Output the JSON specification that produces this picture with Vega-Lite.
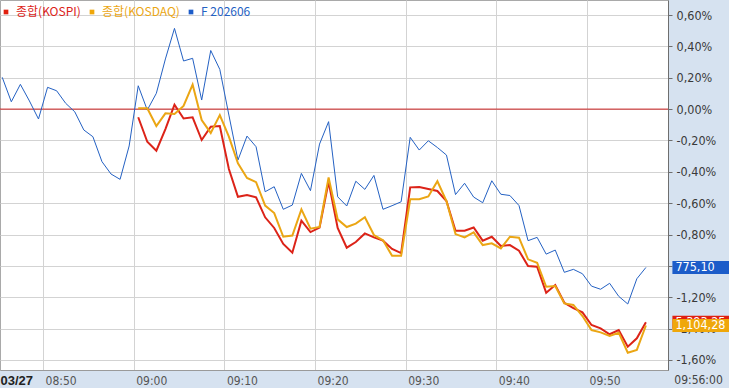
{
  "$schema": "https://vega.github.io/schema/vega-lite/v6.json",
  "width": 668,
  "height": 370,
  "autosize": {"type": "none"},
  "padding": {"left": 0, "top": 0, "right": 61, "bottom": 18},
  "background": "#d6e2f0",
  "config": {
    "view": {"fill": "white", "stroke": "#a9a9a9"},
    "font": "Liberation Sans Narrow, DejaVu Sans Condensed, sans-serif"
  },
  "datasets": {
    "main": [
      {"s": "F 202606", "t": "2026-03-27T08:45Z", "v": 0.203}, {"s": "F 202606", "t": "2026-03-27T08:46Z", "v": 0.047}, {"s": "F 202606", "t": "2026-03-27T08:47Z", "v": 0.158},
      {"s": "F 202606", "t": "2026-03-27T08:48Z", "v": 0.052}, {"s": "F 202606", "t": "2026-03-27T08:49Z", "v": -0.063}, {"s": "F 202606", "t": "2026-03-27T08:50Z", "v": 0.139},
      {"s": "F 202606", "t": "2026-03-27T08:51Z", "v": 0.117}, {"s": "F 202606", "t": "2026-03-27T08:52Z", "v": 0.037}, {"s": "F 202606", "t": "2026-03-27T08:53Z", "v": -0.017},
      {"s": "F 202606", "t": "2026-03-27T08:54Z", "v": -0.133}, {"s": "F 202606", "t": "2026-03-27T08:55Z", "v": -0.176}, {"s": "F 202606", "t": "2026-03-27T08:56Z", "v": -0.335},
      {"s": "F 202606", "t": "2026-03-27T08:57Z", "v": -0.414}, {"s": "F 202606", "t": "2026-03-27T08:58Z", "v": -0.448}, {"s": "F 202606", "t": "2026-03-27T08:59Z", "v": -0.235},
      {"s": "F 202606", "t": "2026-03-27T09:00Z", "v": 0.149}, {"s": "F 202606", "t": "2026-03-27T09:01Z", "v": -0.006}, {"s": "F 202606", "t": "2026-03-27T09:02Z", "v": 0.101},
      {"s": "F 202606", "t": "2026-03-27T09:03Z", "v": 0.32}, {"s": "F 202606", "t": "2026-03-27T09:04Z", "v": 0.515}, {"s": "F 202606", "t": "2026-03-27T09:05Z", "v": 0.307},
      {"s": "F 202606", "t": "2026-03-27T09:06Z", "v": 0.324}, {"s": "F 202606", "t": "2026-03-27T09:07Z", "v": 0.058}, {"s": "F 202606", "t": "2026-03-27T09:08Z", "v": 0.374},
      {"s": "F 202606", "t": "2026-03-27T09:09Z", "v": 0.253}, {"s": "F 202606", "t": "2026-03-27T09:10Z", "v": -0.038}, {"s": "F 202606", "t": "2026-03-27T09:11Z", "v": -0.325},
      {"s": "F 202606", "t": "2026-03-27T09:12Z", "v": -0.172}, {"s": "F 202606", "t": "2026-03-27T09:13Z", "v": -0.24}, {"s": "F 202606", "t": "2026-03-27T09:14Z", "v": -0.527},
      {"s": "F 202606", "t": "2026-03-27T09:15Z", "v": -0.495}, {"s": "F 202606", "t": "2026-03-27T09:16Z", "v": -0.639}, {"s": "F 202606", "t": "2026-03-27T09:17Z", "v": -0.612},
      {"s": "F 202606", "t": "2026-03-27T09:18Z", "v": -0.41}, {"s": "F 202606", "t": "2026-03-27T09:19Z", "v": -0.52}, {"s": "F 202606", "t": "2026-03-27T09:20Z", "v": -0.223},
      {"s": "F 202606", "t": "2026-03-27T09:21Z", "v": -0.08}, {"s": "F 202606", "t": "2026-03-27T09:22Z", "v": -0.559}, {"s": "F 202606", "t": "2026-03-27T09:23Z", "v": -0.618},
      {"s": "F 202606", "t": "2026-03-27T09:24Z", "v": -0.46}, {"s": "F 202606", "t": "2026-03-27T09:25Z", "v": -0.512}, {"s": "F 202606", "t": "2026-03-27T09:26Z", "v": -0.423},
      {"s": "F 202606", "t": "2026-03-27T09:27Z", "v": -0.639}, {"s": "F 202606", "t": "2026-03-27T09:28Z", "v": -0.616}, {"s": "F 202606", "t": "2026-03-27T09:29Z", "v": -0.591},
      {"s": "F 202606", "t": "2026-03-27T09:30Z", "v": -0.18}, {"s": "F 202606", "t": "2026-03-27T09:31Z", "v": -0.261}, {"s": "F 202606", "t": "2026-03-27T09:32Z", "v": -0.202},
      {"s": "F 202606", "t": "2026-03-27T09:33Z", "v": -0.245}, {"s": "F 202606", "t": "2026-03-27T09:34Z", "v": -0.293}, {"s": "F 202606", "t": "2026-03-27T09:35Z", "v": -0.545},
      {"s": "F 202606", "t": "2026-03-27T09:36Z", "v": -0.473}, {"s": "F 202606", "t": "2026-03-27T09:37Z", "v": -0.561}, {"s": "F 202606", "t": "2026-03-27T09:38Z", "v": -0.597},
      {"s": "F 202606", "t": "2026-03-27T09:39Z", "v": -0.457}, {"s": "F 202606", "t": "2026-03-27T09:40Z", "v": -0.543}, {"s": "F 202606", "t": "2026-03-27T09:41Z", "v": -0.551},
      {"s": "F 202606", "t": "2026-03-27T09:42Z", "v": -0.615}, {"s": "F 202606", "t": "2026-03-27T09:43Z", "v": -0.839}, {"s": "F 202606", "t": "2026-03-27T09:44Z", "v": -0.818},
      {"s": "F 202606", "t": "2026-03-27T09:45Z", "v": -0.925}, {"s": "F 202606", "t": "2026-03-27T09:46Z", "v": -0.899}, {"s": "F 202606", "t": "2026-03-27T09:47Z", "v": -1.041},
      {"s": "F 202606", "t": "2026-03-27T09:48Z", "v": -1.022}, {"s": "F 202606", "t": "2026-03-27T09:49Z", "v": -1.05}, {"s": "F 202606", "t": "2026-03-27T09:50Z", "v": -1.129},
      {"s": "F 202606", "t": "2026-03-27T09:51Z", "v": -1.149}, {"s": "F 202606", "t": "2026-03-27T09:52Z", "v": -1.111}, {"s": "F 202606", "t": "2026-03-27T09:53Z", "v": -1.194},
      {"s": "F 202606", "t": "2026-03-27T09:54Z", "v": -1.243}, {"s": "F 202606", "t": "2026-03-27T09:55Z", "v": -1.082}, {"s": "F 202606", "t": "2026-03-27T09:56Z", "v": -1.01},

      {"s": "종합(KOSPI)", "t": "2026-03-27T09:00Z", "v": -0.052}, {"s": "종합(KOSPI)", "t": "2026-03-27T09:01Z", "v": -0.208}, {"s": "종합(KOSPI)", "t": "2026-03-27T09:02Z", "v": -0.265},
      {"s": "종합(KOSPI)", "t": "2026-03-27T09:03Z", "v": -0.127}, {"s": "종합(KOSPI)", "t": "2026-03-27T09:04Z", "v": 0.028}, {"s": "종합(KOSPI)", "t": "2026-03-27T09:05Z", "v": -0.06},
      {"s": "종합(KOSPI)", "t": "2026-03-27T09:06Z", "v": -0.052}, {"s": "종합(KOSPI)", "t": "2026-03-27T09:07Z", "v": -0.197}, {"s": "종합(KOSPI)", "t": "2026-03-27T09:08Z", "v": -0.112},
      {"s": "종합(KOSPI)", "t": "2026-03-27T09:09Z", "v": -0.108}, {"s": "종합(KOSPI)", "t": "2026-03-27T09:10Z", "v": -0.382}, {"s": "종합(KOSPI)", "t": "2026-03-27T09:11Z", "v": -0.559},
      {"s": "종합(KOSPI)", "t": "2026-03-27T09:12Z", "v": -0.548}, {"s": "종합(KOSPI)", "t": "2026-03-27T09:13Z", "v": -0.563}, {"s": "종합(KOSPI)", "t": "2026-03-27T09:14Z", "v": -0.69},
      {"s": "종합(KOSPI)", "t": "2026-03-27T09:15Z", "v": -0.758}, {"s": "종합(KOSPI)", "t": "2026-03-27T09:16Z", "v": -0.86}, {"s": "종합(KOSPI)", "t": "2026-03-27T09:17Z", "v": -0.916},
      {"s": "종합(KOSPI)", "t": "2026-03-27T09:18Z", "v": -0.712}, {"s": "종합(KOSPI)", "t": "2026-03-27T09:19Z", "v": -0.784}, {"s": "종합(KOSPI)", "t": "2026-03-27T09:20Z", "v": -0.756},
      {"s": "종합(KOSPI)", "t": "2026-03-27T09:21Z", "v": -0.463}, {"s": "종합(KOSPI)", "t": "2026-03-27T09:22Z", "v": -0.758}, {"s": "종합(KOSPI)", "t": "2026-03-27T09:23Z", "v": -0.884},
      {"s": "종합(KOSPI)", "t": "2026-03-27T09:24Z", "v": -0.848}, {"s": "종합(KOSPI)", "t": "2026-03-27T09:25Z", "v": -0.793}, {"s": "종합(KOSPI)", "t": "2026-03-27T09:26Z", "v": -0.818},
      {"s": "종합(KOSPI)", "t": "2026-03-27T09:27Z", "v": -0.839}, {"s": "종합(KOSPI)", "t": "2026-03-27T09:28Z", "v": -0.892}, {"s": "종합(KOSPI)", "t": "2026-03-27T09:29Z", "v": -0.918},
      {"s": "종합(KOSPI)", "t": "2026-03-27T09:30Z", "v": -0.499}, {"s": "종합(KOSPI)", "t": "2026-03-27T09:31Z", "v": -0.497}, {"s": "종합(KOSPI)", "t": "2026-03-27T09:32Z", "v": -0.51},
      {"s": "종합(KOSPI)", "t": "2026-03-27T09:33Z", "v": -0.522}, {"s": "종합(KOSPI)", "t": "2026-03-27T09:34Z", "v": -0.586}, {"s": "종합(KOSPI)", "t": "2026-03-27T09:35Z", "v": -0.776},
      {"s": "종합(KOSPI)", "t": "2026-03-27T09:36Z", "v": -0.776}, {"s": "종합(KOSPI)", "t": "2026-03-27T09:37Z", "v": -0.755}, {"s": "종합(KOSPI)", "t": "2026-03-27T09:38Z", "v": -0.839},
      {"s": "종합(KOSPI)", "t": "2026-03-27T09:39Z", "v": -0.814}, {"s": "종합(KOSPI)", "t": "2026-03-27T09:40Z", "v": -0.873}, {"s": "종합(KOSPI)", "t": "2026-03-27T09:41Z", "v": -0.867},
      {"s": "종합(KOSPI)", "t": "2026-03-27T09:42Z", "v": -0.903}, {"s": "종합(KOSPI)", "t": "2026-03-27T09:43Z", "v": -1.001}, {"s": "종합(KOSPI)", "t": "2026-03-27T09:44Z", "v": -1.005},
      {"s": "종합(KOSPI)", "t": "2026-03-27T09:45Z", "v": -1.171}, {"s": "종합(KOSPI)", "t": "2026-03-27T09:46Z", "v": -1.122}, {"s": "종합(KOSPI)", "t": "2026-03-27T09:47Z", "v": -1.235},
      {"s": "종합(KOSPI)", "t": "2026-03-27T09:48Z", "v": -1.27}, {"s": "종합(KOSPI)", "t": "2026-03-27T09:49Z", "v": -1.296}, {"s": "종합(KOSPI)", "t": "2026-03-27T09:50Z", "v": -1.377},
      {"s": "종합(KOSPI)", "t": "2026-03-27T09:51Z", "v": -1.398}, {"s": "종합(KOSPI)", "t": "2026-03-27T09:52Z", "v": -1.436}, {"s": "종합(KOSPI)", "t": "2026-03-27T09:53Z", "v": -1.409},
      {"s": "종합(KOSPI)", "t": "2026-03-27T09:54Z", "v": -1.515}, {"s": "종합(KOSPI)", "t": "2026-03-27T09:55Z", "v": -1.462}, {"s": "종합(KOSPI)", "t": "2026-03-27T09:56Z", "v": -1.36},

      {"s": "종합(KOSDAQ)", "t": "2026-03-27T09:00Z", "v": 0.005}, {"s": "종합(KOSDAQ)", "t": "2026-03-27T09:01Z", "v": 0.005}, {"s": "종합(KOSDAQ)", "t": "2026-03-27T09:02Z", "v": -0.108},
      {"s": "종합(KOSDAQ)", "t": "2026-03-27T09:03Z", "v": -0.027}, {"s": "종합(KOSDAQ)", "t": "2026-03-27T09:04Z", "v": -0.031}, {"s": "종합(KOSDAQ)", "t": "2026-03-27T09:05Z", "v": 0.02},
      {"s": "종합(KOSDAQ)", "t": "2026-03-27T09:06Z", "v": 0.157}, {"s": "종합(KOSDAQ)", "t": "2026-03-27T09:07Z", "v": -0.07}, {"s": "종합(KOSDAQ)", "t": "2026-03-27T09:08Z", "v": -0.152},
      {"s": "종합(KOSDAQ)", "t": "2026-03-27T09:09Z", "v": -0.038}, {"s": "종합(KOSDAQ)", "t": "2026-03-27T09:10Z", "v": -0.176}, {"s": "종합(KOSDAQ)", "t": "2026-03-27T09:11Z", "v": -0.346},
      {"s": "종합(KOSDAQ)", "t": "2026-03-27T09:12Z", "v": -0.439}, {"s": "종합(KOSDAQ)", "t": "2026-03-27T09:13Z", "v": -0.466}, {"s": "종합(KOSDAQ)", "t": "2026-03-27T09:14Z", "v": -0.615},
      {"s": "종합(KOSDAQ)", "t": "2026-03-27T09:15Z", "v": -0.663}, {"s": "종합(KOSDAQ)", "t": "2026-03-27T09:16Z", "v": -0.814}, {"s": "종합(KOSDAQ)", "t": "2026-03-27T09:17Z", "v": -0.806},
      {"s": "종합(KOSDAQ)", "t": "2026-03-27T09:18Z", "v": -0.639}, {"s": "종합(KOSDAQ)", "t": "2026-03-27T09:19Z", "v": -0.763}, {"s": "종합(KOSDAQ)", "t": "2026-03-27T09:20Z", "v": -0.752},
      {"s": "종합(KOSDAQ)", "t": "2026-03-27T09:21Z", "v": -0.436}, {"s": "종합(KOSDAQ)", "t": "2026-03-27T09:22Z", "v": -0.703}, {"s": "종합(KOSDAQ)", "t": "2026-03-27T09:23Z", "v": -0.752},
      {"s": "종합(KOSDAQ)", "t": "2026-03-27T09:24Z", "v": -0.73}, {"s": "종합(KOSDAQ)", "t": "2026-03-27T09:25Z", "v": -0.69}, {"s": "종합(KOSDAQ)", "t": "2026-03-27T09:26Z", "v": -0.803},
      {"s": "종합(KOSDAQ)", "t": "2026-03-27T09:27Z", "v": -0.837}, {"s": "종합(KOSDAQ)", "t": "2026-03-27T09:28Z", "v": -0.936}, {"s": "종합(KOSDAQ)", "t": "2026-03-27T09:29Z", "v": -0.936},
      {"s": "종합(KOSDAQ)", "t": "2026-03-27T09:30Z", "v": -0.575}, {"s": "종합(KOSDAQ)", "t": "2026-03-27T09:31Z", "v": -0.575}, {"s": "종합(KOSDAQ)", "t": "2026-03-27T09:32Z", "v": -0.557},
      {"s": "종합(KOSDAQ)", "t": "2026-03-27T09:33Z", "v": -0.46}, {"s": "종합(KOSDAQ)", "t": "2026-03-27T09:34Z", "v": -0.586}, {"s": "종합(KOSDAQ)", "t": "2026-03-27T09:35Z", "v": -0.797},
      {"s": "종합(KOSDAQ)", "t": "2026-03-27T09:36Z", "v": -0.818}, {"s": "종합(KOSDAQ)", "t": "2026-03-27T09:37Z", "v": -0.786}, {"s": "종합(KOSDAQ)", "t": "2026-03-27T09:38Z", "v": -0.867},
      {"s": "종합(KOSDAQ)", "t": "2026-03-27T09:39Z", "v": -0.856}, {"s": "종합(KOSDAQ)", "t": "2026-03-27T09:40Z", "v": -0.888}, {"s": "종합(KOSDAQ)", "t": "2026-03-27T09:41Z", "v": -0.814},
      {"s": "종합(KOSDAQ)", "t": "2026-03-27T09:42Z", "v": -0.82}, {"s": "종합(KOSDAQ)", "t": "2026-03-27T09:43Z", "v": -0.958}, {"s": "종합(KOSDAQ)", "t": "2026-03-27T09:44Z", "v": -0.98},
      {"s": "종합(KOSDAQ)", "t": "2026-03-27T09:45Z", "v": -1.133}, {"s": "종합(KOSDAQ)", "t": "2026-03-27T09:46Z", "v": -1.128}, {"s": "종합(KOSDAQ)", "t": "2026-03-27T09:47Z", "v": -1.239},
      {"s": "종합(KOSDAQ)", "t": "2026-03-27T09:48Z", "v": -1.249}, {"s": "종합(KOSDAQ)", "t": "2026-03-27T09:49Z", "v": -1.32}, {"s": "종합(KOSDAQ)", "t": "2026-03-27T09:50Z", "v": -1.409},
      {"s": "종합(KOSDAQ)", "t": "2026-03-27T09:51Z", "v": -1.424}, {"s": "종합(KOSDAQ)", "t": "2026-03-27T09:52Z", "v": -1.447}, {"s": "종합(KOSDAQ)", "t": "2026-03-27T09:53Z", "v": -1.426},
      {"s": "종합(KOSDAQ)", "t": "2026-03-27T09:54Z", "v": -1.554}, {"s": "종합(KOSDAQ)", "t": "2026-03-27T09:55Z", "v": -1.536}, {"s": "종합(KOSDAQ)", "t": "2026-03-27T09:56Z", "v": -1.38}
    ],
    "latest": [
      {"s": "F 202606", "t": "2026-03-27T09:56Z", "v": -1.01, "price": "775,10"},
      {"s": "종합(KOSPI)", "t": "2026-03-27T09:56Z", "v": -1.36, "price": "5,393,25"},
      {"s": "종합(KOSDAQ)", "t": "2026-03-27T09:56Z", "v": -1.38, "price": "1,104,28"}
    ],
    "reference": [{"level": 0}]
  },
  "layer": [
    {
      "data": {"name": "reference"},
      "mark": {"type": "rule", "color": "#cc1f1f", "strokeWidth": 1},
      "encoding": {"y": {"field": "level", "type": "quantitative"}}
    },
    {
      "data": {"name": "main"},
      "transform": [{"filter": "datum.s == 'F 202606'"}],
      "mark": {"type": "line", "strokeWidth": 1, "xOffset": 4.5},
      "encoding": {
        "x": {
          "field": "t", "type": "temporal",
          "scale": {"type": "utc", "domain": [
            {"year": 2026, "month": 3, "date": 27, "hours": 8, "minutes": 45, "seconds": 15, "utc": true},
            {"year": 2026, "month": 3, "date": 27, "hours": 9, "minutes": 58, "seconds": 56, "utc": true}
          ]},
          "axis": {
            "values": [
              {"year": 2026, "month": 3, "date": 27, "hours": 8, "minutes": 50, "utc": true},
              {"year": 2026, "month": 3, "date": 27, "hours": 9, "minutes": 0, "utc": true},
              {"year": 2026, "month": 3, "date": 27, "hours": 9, "minutes": 10, "utc": true},
              {"year": 2026, "month": 3, "date": 27, "hours": 9, "minutes": 20, "utc": true},
              {"year": 2026, "month": 3, "date": 27, "hours": 9, "minutes": 30, "utc": true},
              {"year": 2026, "month": 3, "date": 27, "hours": 9, "minutes": 40, "utc": true},
              {"year": 2026, "month": 3, "date": 27, "hours": 9, "minutes": 50, "utc": true}
            ],
            "labelExpr": "utcFormat(datum.value, '%H:%M')",
            "labelAlign": "left", "labelBaseline": "middle", "labelOffset": 2,
            "ticks": true, "tickSize": 5, "tickOpacity": 0, "labelPadding": 5,
            "labelFlush": false, "labelOverlap": false, "labelBound": false,
            "labelColor": "#555555", "labelFontSize": 12,
            "domain": true, "domainColor": "#9a9a9a",
            "grid": true, "gridColor": "#d3d3d3", "gridWidth": 1,
            "title": "03/27", "titleX": 0, "titleY": 10, "titleAlign": "left", "titleBaseline": "middle",
            "titleFontSize": 13, "titleFontWeight": "bold", "titleColor": "#222222", "titleFont": "Liberation Sans, Arial, sans-serif"
          }
        },
        "y": {
          "field": "v", "type": "quantitative",
          "scale": {"domain": [-1.664, 0.696], "nice": false, "zero": false},
          "axis": {
            "orient": "right",
            "tickCount": 50,
            "values": [-1.6, -1.4, -1.2, -1, -0.8, -0.6, -0.4, -0.2, 0, 0.2, 0.4, 0.6],
            "labelExpr": "replace(replace(format(datum.value, '.2f'), '.', ','), '\u2212', '-') + '%'",
            "labelOverlap": false, "labelBound": false, "labelFlush": false,
            "labelColor": "#3a3a3a", "labelFontSize": 12.5, "labelPadding": 4,
            "tickSize": 4, "tickColor": "#6e6e6e",
            "domain": true, "domainColor": "#6e6e6e",
            "grid": true, "gridColor": "#d3d3d3",
            "title": "09:56:00", "titleAngle": 0, "titleX": 30, "titleY": 379, "titleAlign": "center", "titleBaseline": "middle",
            "titleFontSize": 12, "titleFontWeight": "normal", "titleColor": "#444444"
          }
        },
        "color": {
          "field": "s", "type": "nominal",
          "scale": {"domain": ["종합(KOSPI)", "종합(KOSDAQ)", "F 202606"], "range": ["#dc2318", "#eba614", "#2461c3"]},
          "legend": {
            "orient": "none", "legendX": 0, "legendY": 6, "direction": "horizontal", "title": null,
            "padding": 0, "symbolType": "square", "symbolSize": 22,
            "symbolFillColor": "#9e9e9e", "symbolStrokeWidth": 0,
            "labelOffset": 4, "columnPadding": 5, "labelFontSize": 12, "labelFont": "Noto Sans CJK KR",
            "encode": {
              "labels": {"update": {"fill": {"signal": "scale('color', datum.value)"}}}
            }
          }
        }
      }
    },
    {
      "data": {"name": "main"},
      "transform": [{"filter": "datum.s != 'F 202606'"}],
      "mark": {"type": "line", "strokeWidth": 2, "xOffset": 4.5},
      "encoding": {
        "x": {"field": "t", "type": "temporal"},
        "y": {"field": "v", "type": "quantitative"},
        "color": {"field": "s", "type": "nominal"}
      }
    },
    {
      "data": {"name": "latest"},
      "transform": [{"filter": "datum.s != '종합(KOSDAQ)'"}],
      "mark": {"type": "rect", "xOffset": 31, "x2Offset": 88, "yOffset": -6.5, "y2Offset": 6.5},
      "encoding": {
        "x": {"field": "t", "type": "temporal"},
        "x2": {"field": "t"},
        "y": {"field": "v", "type": "quantitative"},
        "y2": {"field": "v"},
        "fill": {"field": "s", "type": "nominal", "scale": {"domain": ["종합(KOSPI)", "종합(KOSDAQ)", "F 202606"], "range": ["#e0200f", "#efa70a", "#1c5cc9"]}, "legend": null}
      }
    },
    {
      "data": {"name": "latest"},
      "transform": [{"filter": "datum.s != '종합(KOSDAQ)'"}],
      "mark": {"type": "text", "dx": 34, "align": "left", "baseline": "middle", "fontSize": 12.5, "color": "white"},
      "encoding": {
        "x": {"field": "t", "type": "temporal"},
        "y": {"field": "v", "type": "quantitative"},
        "text": {"field": "price"}
      }
    },
    {
      "data": {"name": "latest"},
      "transform": [{"filter": "datum.s == '종합(KOSDAQ)'"}],
      "mark": {"type": "rect", "xOffset": 31, "x2Offset": 88, "yOffset": -6.5, "y2Offset": 6.5},
      "encoding": {
        "x": {"field": "t", "type": "temporal"},
        "x2": {"field": "t"},
        "y": {"field": "v", "type": "quantitative"},
        "y2": {"field": "v"},
        "fill": {"field": "s", "type": "nominal", "legend": null}
      }
    },
    {
      "data": {"name": "latest"},
      "transform": [{"filter": "datum.s == '종합(KOSDAQ)'"}],
      "mark": {"type": "text", "dx": 34, "align": "left", "baseline": "middle", "fontSize": 12.5, "color": "white"},
      "encoding": {
        "x": {"field": "t", "type": "temporal"},
        "y": {"field": "v", "type": "quantitative"},
        "text": {"field": "price"}
      }
    }
  ]
}
